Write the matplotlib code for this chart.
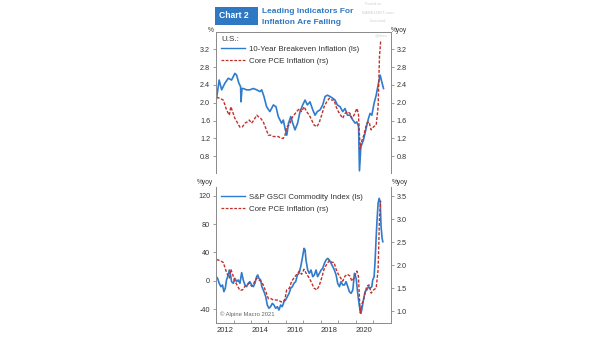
import numpy as np
import matplotlib
matplotlib.use("Agg")
import matplotlib.pyplot as plt
from matplotlib.patches import Rectangle

plt.rcParams["font.family"] = ["Liberation Sans", "DejaVu Sans"]

# 10-year breakeven inflation, % (decimal years)
be_t = [2012.02, 2012.17, 2012.31, 2012.50, 2012.69, 2012.88, 2013.07, 2013.17, 2013.30, 2013.40,
        2013.42, 2013.48, 2013.55, 2013.74, 2013.93, 2014.13, 2014.32, 2014.51, 2014.61, 2014.74,
        2014.89, 2015.08, 2015.28, 2015.43, 2015.56, 2015.75, 2015.85, 2015.95, 2016.05, 2016.15,
        2016.28, 2016.39, 2016.52, 2016.67, 2016.81, 2016.96, 2017.10, 2017.23, 2017.38, 2017.54,
        2017.67, 2017.80, 2017.96, 2018.11, 2018.25, 2018.38, 2018.53, 2018.69, 2018.82, 2018.95,
        2019.11, 2019.26, 2019.39, 2019.53, 2019.68, 2019.84, 2019.97, 2020.07, 2020.17, 2020.22,
        2020.30, 2020.45, 2020.60, 2020.74, 2020.83, 2020.93, 2021.06, 2021.18, 2021.31, 2021.41,
        2021.50, 2021.60]
be_v = [2.10, 2.51, 2.29, 2.44, 2.55, 2.51, 2.66, 2.62, 2.44, 2.36,
        2.02, 2.32, 2.32, 2.29, 2.29, 2.32, 2.29, 2.25, 2.29, 2.14,
        1.91, 1.80, 1.95, 1.91, 1.69, 1.54, 1.61, 1.42, 1.27, 1.54,
        1.69, 1.54, 1.39, 1.54, 1.80, 1.95, 2.06, 1.95, 2.02, 1.84,
        1.72, 1.80, 1.84, 1.95, 2.14, 2.17, 2.14, 2.10, 2.06, 1.95,
        1.91, 1.80, 1.87, 1.72, 1.72, 1.61, 1.54, 1.57, 1.46, 0.47,
        1.01, 1.16, 1.42, 1.65, 1.76, 1.72, 1.99, 2.17, 2.44, 2.62,
        2.47, 2.32]

# Core PCE inflation, %yoy
pce_t = [2012.02, 2012.21, 2012.40, 2012.50, 2012.59, 2012.75, 2012.84, 2012.94, 2013.07, 2013.23,
         2013.36, 2013.51, 2013.65, 2013.78, 2013.90, 2014.03, 2014.16, 2014.32, 2014.41, 2014.55,
         2014.70, 2014.85, 2014.99, 2015.14, 2015.28, 2015.43, 2015.56, 2015.72, 2015.85, 2015.95,
         2016.04, 2016.20, 2016.33, 2016.46, 2016.62, 2016.77, 2016.90, 2017.04, 2017.19, 2017.34,
         2017.48, 2017.61, 2017.77, 2017.90, 2018.05, 2018.19, 2018.34, 2018.49, 2018.63, 2018.76,
         2018.88, 2019.01, 2019.14, 2019.26, 2019.39, 2019.53, 2019.68, 2019.78, 2019.91, 2020.07,
         2020.16, 2020.26, 2020.34, 2020.47, 2020.64, 2020.77, 2020.89, 2021.03, 2021.18, 2021.29,
         2021.37, 2021.44]
pce_v = [2.12, 2.10, 2.06, 1.95, 1.84, 1.72, 1.91, 1.80, 1.65, 1.54,
         1.45, 1.46, 1.54, 1.57, 1.61, 1.54, 1.61, 1.72, 1.69, 1.65,
         1.57, 1.42, 1.27, 1.27, 1.24, 1.24, 1.24, 1.20, 1.20, 1.27,
         1.46, 1.50, 1.65, 1.72, 1.80, 1.87, 1.80, 1.91, 1.80, 1.72,
         1.61, 1.50, 1.46, 1.54, 1.72, 1.91, 2.02, 2.10, 2.06, 2.06,
         1.91, 1.80, 1.72, 1.65, 1.76, 1.80, 1.76, 1.65, 1.72, 1.87,
         1.76, 0.96, 1.13, 1.27, 1.54, 1.57, 1.39, 1.46, 1.50, 1.90,
         3.05, 3.40]

# S&P GSCI commodity index, %yoy
gsci_t = [2012.00, 2012.08, 2012.17, 2012.27, 2012.36, 2012.44, 2012.52, 2012.59, 2012.69, 2012.75,
          2012.82, 2012.88, 2012.98, 2013.07, 2013.17, 2013.26, 2013.36, 2013.46, 2013.55, 2013.65,
          2013.74, 2013.84, 2013.93, 2014.03, 2014.13, 2014.22, 2014.32, 2014.38, 2014.45, 2014.55,
          2014.62, 2014.74, 2014.84, 2014.93, 2015.03, 2015.12, 2015.22, 2015.31, 2015.41, 2015.51,
          2015.60, 2015.70, 2015.79, 2015.89, 2015.98, 2016.08, 2016.18, 2016.27, 2016.37, 2016.46,
          2016.56, 2016.66, 2016.75, 2016.85, 2016.94, 2017.04, 2017.10, 2017.15, 2017.25, 2017.34,
          2017.44, 2017.54, 2017.63, 2017.73, 2017.82, 2017.92, 2018.02, 2018.11, 2018.21, 2018.30,
          2018.40, 2018.49, 2018.59, 2018.69, 2018.78, 2018.88, 2018.97, 2019.07, 2019.16, 2019.26,
          2019.36, 2019.45, 2019.55, 2019.64, 2019.74, 2019.84, 2019.93, 2020.03, 2020.12, 2020.22,
          2020.30, 2020.35, 2020.45, 2020.54, 2020.64, 2020.74, 2020.83, 2020.93, 2020.98, 2021.06,
          2021.12, 2021.18, 2021.23, 2021.29, 2021.35, 2021.41, 2021.46, 2021.52, 2021.56]
gsci_v = [5.8, 3.4, -3.6, -8.4, -6.0, -15.4, -10.7, 1.1, 8.2, 15.2,
          8.2, -1.3, -3.6, 3.4, -1.3, 1.1, -3.6, 11.5, 1.1, -6.0,
          -8.4, -3.6, -1.3, -6.0, -8.4, -3.6, 5.8, 8.2, 3.4, 1.1,
          -8.4, -15.4, -22.5, -34.3, -39.0, -36.7, -32.0, -34.3, -39.0, -36.7,
          -41.4, -34.3, -36.7, -29.6, -27.2, -22.5, -17.8, -10.7, -8.4, -3.6,
          -1.3, 8.2, 10.5, 20.0, 31.7, 45.9, 43.5, 29.4, 15.2, 10.5,
          15.2, 5.8, 8.2, 15.2, 5.8, 10.5, 15.2, 17.6, 24.7, 29.4,
          31.7, 29.4, 24.7, 20.0, 15.2, 8.2, -3.6, -8.4, -1.3, -6.0,
          -6.0, -1.3, -8.4, -15.4, -17.8, -13.1, 10.5, 3.4, -17.8, -36.7,
          -46.1, -41.4, -27.2, -15.4, -13.1, -8.4, -10.7, -8.4, 1.1, 5.8,
          29.4, 62.4, 86.0, 109.6, 116.7, 112.0, 76.6, 60.1, 55.3]

year_labels = ["2012", "2014", "2016", "2018", "2020"]
top_ticks = [0.8, 1.2, 1.6, 2.0, 2.4, 2.8, 3.2]
gsci_ticks = [-40, 0, 40, 80, 120]
pce_ticks = [1.0, 1.5, 2.0, 2.5, 3.0, 3.5]

BLUE = "#2f7bcc"
RED = "#c0302a"
SPINE = "#8c8c8c"
TXT = "#333333"
FS = 5.2
W, H = 605, 341
DASH = (0, (2.2, 1.2))


def fig_box(x0, y0, x1, y1):
    return [x0 / W, 1 - y1 / H, (x1 - x0) / W, (y1 - y0) / H]


def style(ax, side, ticks, fmt):
    ax.set_yticks(ticks)
    ax.set_yticklabels([fmt.format(t) for t in ticks])
    ax.tick_params(axis="y", which="both", length=2.5, width=0.6, color=SPINE,
                   labelsize=FS, labelcolor=TXT, pad=1.5,
                   left=(side == "left"), labelleft=(side == "left"),
                   right=(side == "right"), labelright=(side == "right"))
    for s in ax.spines.values():
        s.set_color(SPINE)
        s.set_linewidth(0.7)


fig = plt.figure(figsize=(W / 100, H / 100), dpi=100)
xlim = (2011.97, 2022.03)

# --- top panel: breakeven vs core PCE ---
ax1 = fig.add_axes(fig_box(215.7, 32, 391, 173))
ax1r = ax1.twinx()
for a in (ax1, ax1r):
    a.set_xlim(*xlim)
    a.set_ylim(0.42, 3.59)
    a.spines["bottom"].set_visible(False)
    a.set_xticks([])
style(ax1, "left", top_ticks, "{:.1f}")
style(ax1r, "right", top_ticks, "{:.1f}")

ax1.plot(be_t, be_v, color=BLUE, lw=1.2, zorder=3)
ax1r.plot(pce_t, pce_v, color=RED, lw=1.0, ls=DASH, zorder=2)

ax1.text(0.035, 0.975, "U.S.:", transform=ax1.transAxes, fontsize=FS + 0.6,
         color=TXT, va="top", ha="left")
h1 = [plt.Line2D([], [], color=BLUE, lw=1.0), plt.Line2D([], [], color=RED, lw=0.9, ls=DASH)]
ax1.legend(h1, ["10-Year Breakeven Inflation (ls)", "Core PCE Inflation (rs)"],
           loc="upper left", bbox_to_anchor=(0.03, 0.905), frameon=False,
           fontsize=FS + 0.5, handlelength=3.0, handletextpad=0.6, labelspacing=0.6,
           borderaxespad=0, borderpad=0, labelcolor=TXT)
fig.text(211 / W, 1 - 30 / H, "%", fontsize=FS - 0.4, color=TXT, ha="center", va="center")
fig.text(399 / W, 1 - 30 / H, "%yoy", fontsize=FS - 0.4, color=TXT, ha="center", va="center")

# --- bottom panel: commodities vs core PCE ---
ax2 = fig.add_axes(fig_box(215.7, 187, 391, 323))
ax2r = ax2.twinx()
for a in (ax2, ax2r):
    a.set_xlim(*xlim)
    a.spines["top"].set_visible(False)
ax2.set_ylim(-59.8, 132.7)
ax2r.set_ylim(0.74, 3.70)
style(ax2, "left", gsci_ticks, "{:d}")
style(ax2r, "right", pce_ticks, "{:.1f}")

ax2.set_xticks([2012.5, 2014.5, 2016.5, 2018.5, 2020.5])
ax2.set_xticklabels(year_labels)
ax2.set_xticks(np.arange(2012, 2022), minor=True)
ax2.tick_params(axis="x", which="major", length=0, labelsize=FS + 0.3, labelcolor=TXT, pad=3)
ax2.tick_params(axis="x", which="minor", length=2, width=0.6, direction="in", color=SPINE)

ax2.plot(gsci_t, gsci_v, color=BLUE, lw=1.2, zorder=3)
ax2r.plot(pce_t, pce_v, color=RED, lw=1.0, ls=DASH, zorder=2)

h2 = [plt.Line2D([], [], color=BLUE, lw=1.0), plt.Line2D([], [], color=RED, lw=0.9, ls=DASH)]
ax2.legend(h2, ["S&P GSCI Commodity Index (ls)", "Core PCE Inflation (rs)"],
           loc="upper left", bbox_to_anchor=(0.03, 0.955), frameon=False,
           fontsize=FS + 0.5, handlelength=3.0, handletextpad=0.6, labelspacing=0.6,
           borderaxespad=0, borderpad=0, labelcolor=TXT)
ax2.text(0.025, 0.045, "© Alpine Macro 2021", transform=ax2.transAxes, fontsize=FS - 1.0,
         color="#666666", ha="left", va="bottom")
fig.text(205 / W, 1 - 183 / H, "%yoy", fontsize=FS - 0.4, color=TXT, ha="center", va="center")
fig.text(400 / W, 1 - 183 / H, "%yoy", fontsize=FS - 0.4, color=TXT, ha="center", va="center")

# --- title block ---
fig.patches.append(Rectangle((215 / W, 1 - 25 / H), 43 / W, 18.3 / H, transform=fig.transFigure,
                             facecolor="#2f78c4", edgecolor="none"))
fig.text(219 / W, 1 - 16 / H, "Chart 2", fontsize=6.2, fontweight="bold", color="white",
         ha="left", va="center")
fig.text(262 / W, 1 - 11.5 / H, "Leading Indicators For", fontsize=6.0, fontweight="bold",
         color="#2f78c4", ha="left", va="center")
fig.text(262 / W, 1 - 23 / H, "Inflation Are Falling", fontsize=6.0, fontweight="bold",
         color="#2f78c4", ha="left", va="center")

# faint distribution marks
fig.text(373 / W, 1 - 4 / H, "Posted on", fontsize=2.6, color="#d0d0d0", ha="center", va="center")
fig.text(378 / W, 1 - 13 / H, "ISABELNET.com", fontsize=3.2, color="#d0d0d0", ha="center", va="center")
fig.text(378 / W, 1 - 21 / H, "Licensed", fontsize=3.0, color="#d0d0d0", ha="center", va="center")
fig.text(381 / W, 1 - 35 / H, "@bbxx", fontsize=3.0, color="#d0d0d0", ha="center", va="center")

fig.savefig("out.png", dpi=100)
plt.close(fig)
